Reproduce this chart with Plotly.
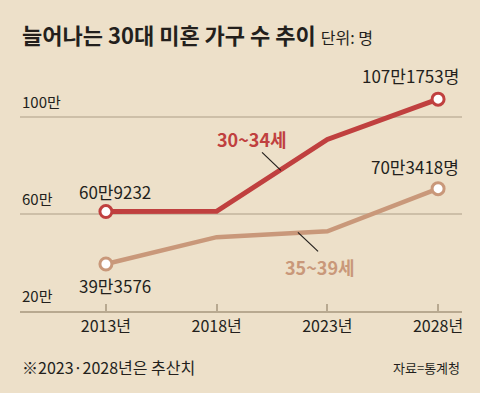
import plotly.graph_objects as go

years = [2013, 2018, 2023, 2028]
year_labels = ["2013년", "2018년", "2023년", "2028년"]
s1_name = "30~34세"
s1_vals = [60.9232, 61.0, 90.6, 107.1753]   # 만 명
s2_name = "35~39세"
s2_vals = [39.3576, 50.4, 52.8, 70.3418]
y_ticks = [20, 60, 100]
y_tick_labels = ["20만", "60만", "100만"]
first_labels = ["60만9232", "39만3576"]
last_labels = ["107만1753명", "70만3418명"]

RED = "#c0403f"
TAN = "#c9987a"
BG = "#ede0c9"
GRID = "#cdbfa8"
TXT = "#231f1c"
FONT = "Noto Sans CJK KR"

W, H = 480, 393
ML, MR, MT, MB = 20, 18, 80, 82
PW, PH = W - ML - MR, H - MT - MB

fig = go.Figure()
for vals, col, w in [(s2_vals, TAN, 4.5), (s1_vals, RED, 5)]:
    fig.add_trace(go.Scatter(x=years, y=vals, mode="lines", line=dict(color=col, width=w),
                             hoverinfo="skip", showlegend=False))
    fig.add_trace(go.Scatter(x=[years[0], years[-1]], y=[vals[0], vals[-1]], mode="markers",
                             marker=dict(size=12, color="white", line=dict(color=col, width=3)),
                             hoverinfo="skip", showlegend=False))

def f(size, color=TXT):
    return dict(size=size, color=color, family=FONT)

ann = []
for v, t in zip(y_ticks, y_tick_labels):
    ann.append(dict(x=0, xref="paper", y=v, yref="y", text=t, showarrow=False,
                    xanchor="left", yanchor="bottom", yshift=3, font=f(15)))
ann.append(dict(x=years[0], y=s1_vals[0], text=first_labels[0], showarrow=False,
                xshift=9, yshift=20, font=f(17)))
ann.append(dict(x=years[0], y=s2_vals[0], text=first_labels[1], showarrow=False,
                xshift=9, yshift=-22, font=f(17)))
ann.append(dict(x=years[-1], y=s1_vals[-1], text=last_labels[0], showarrow=False,
                xanchor="right", xshift=23, yshift=24, font=f(17)))
ann.append(dict(x=years[-1], y=s2_vals[-1], text=last_labels[1], showarrow=False,
                xanchor="right", xshift=23, yshift=22, font=f(17)))
ann.append(dict(x=2019.6, y=90.6, text="<b>" + s1_name + "</b>", showarrow=False, font=f(18, RED)))
ann.append(dict(x=2022.67, y=38.0, text="<b>" + s2_name + "</b>", showarrow=False, font=f(18, TAN)))

def px(x, y, text, size, anchor="left"):
    return dict(x=(x - ML) / PW, y=(H - MB - y) / PH, xref="paper", yref="paper", text=text,
                showarrow=False, xanchor=anchor, yanchor="middle", font=f(size))

ann.append(px(20, 34, "<b>늘어나는 30대 미혼 가구 수 추이</b> <span style='font-size:16px'>단위: 명</span>", 22))
ann.append(px(20, 367, "※2023·2028년은 추산치", 16))
ann.append(px(462, 367, "자료=통계청", 13, anchor="right"))

shapes = [
    dict(type="line", x0=2020.05, y0=85.27, x1=2020.90, y1=77.86, line=dict(color=TXT, width=1.2)),
    dict(type="line", x0=2021.67, y0=52.35, x1=2022.58, y1=44.53, line=dict(color=TXT, width=1.2)),
]

fig.update_layout(
    width=W, height=H, paper_bgcolor=BG, plot_bgcolor=BG,
    margin=dict(l=ML, r=MR, t=MT, b=MB),
    xaxis=dict(range=[2009.12, 2029.08], tickvals=years, ticktext=year_labels,
               showgrid=False, zeroline=False, showline=True, linecolor="#b8a990", linewidth=1.5,
               ticks="inside", ticklen=7, tickcolor="#b8a990", tickwidth=1.5,
               tickfont=f(16)),
    yaxis=dict(range=[20, 20 + PH / 2.43], tickvals=[60, 100], showticklabels=False,
               showgrid=True, gridcolor=GRID, gridwidth=1.5, zeroline=False, showline=False),
    annotations=ann, shapes=shapes,
)

fig.write_html("out.html", config={"displayModeBar": False},
               post_script="document.body.style.margin='0';document.body.style.background='%s';" % BG)
